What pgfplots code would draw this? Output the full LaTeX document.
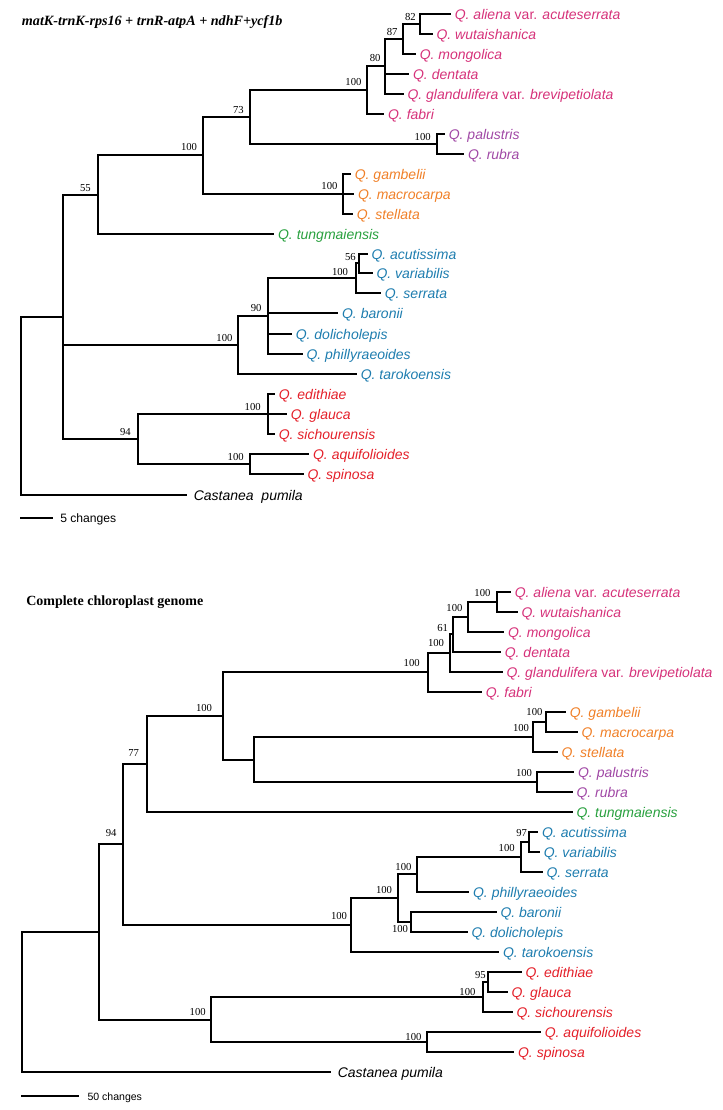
\documentclass[border=0pt]{standalone}
\usepackage{pgfplots}
\pgfplotsset{compat=1.18}
\usepackage{fontspec}
\setmainfont{Liberation Serif}
\newfontfamily\arial{Liberation Sans}
\definecolor{qpink}{RGB}{214,50,122}
\definecolor{qpurple}{RGB}{160,72,165}
\definecolor{qorange}{RGB}{240,128,40}
\definecolor{qgreen}{RGB}{40,160,62}
\definecolor{qblue}{RGB}{30,125,175}
\definecolor{qred}{RGB}{228,32,42}
\newcommand{\taxfont}{\arial\fontsize{10.5}{12}\selectfont}
\newcommand{\svfont}{\fontsize{8}{9}\selectfont}
% support value: right edge x, vertical centre y
\newcommand{\sv}[3]{\node[anchor=east,inner sep=0pt,font=\svfont] at (axis cs:#1,#2) {#3};}
% taxon label: tip x, tip y, colour, text
\newcommand{\tx}[4]{\node[anchor=base west,inner sep=0pt,xshift=3.4pt,yshift=-3.75pt,text=#3,font=\taxfont] at (axis cs:#1,#2) {#4};}
\begin{document}
\begin{tikzpicture}
\begin{axis}[
  scale only axis, width=542.25pt, height=832.5pt,
  xmin=0, xmax=723, ymin=0, ymax=1110, y dir=reverse,
  hide axis, clip=false, unbounded coords=jump,
  cycle list={{black,solid,no markers}},
  every axis plot post/.append style={black, solid, no markers, line width=1.4pt, line join=miter, line cap=rect},
]
\addplot[draw=none] coordinates {(0,0) (723,1110)};
% ================= TOP TREE =================
\addplot coordinates {(450,14) (420,14) (420,34) (431.7,34)};
\addplot coordinates {(420,24) (402.7,24) (402.7,54) (415,54)};
\addplot coordinates {(402.7,39) (385,39) (385,94) (402.7,94) (nan,nan) (385,74) (408.3,74)};
\addplot coordinates {(385,66) (366.7,66) (366.7,114) (383.3,114)};
\addplot coordinates {(444,134) (436.7,134) (436.7,154) (463.3,154)};
\addplot coordinates {(366.7,90) (250,90) (250,144) (436.7,144)};
\addplot coordinates {(350,174) (343.3,174) (343.3,214) (352,214) (nan,nan) (343.3,194) (353.3,194)};
\addplot coordinates {(250,117) (203,117) (203,194) (343.3,194)};
\addplot coordinates {(203,155) (97.7,155) (97.7,234) (273.3,234)};
\addplot coordinates {(366.7,254) (359.3,254) (359.3,273) (371.7,273)};
\addplot coordinates {(359.3,263) (356,263) (356,293) (380,293)};
\addplot coordinates {(356,278) (267.7,278) (267.7,354) (301.7,354) (nan,nan) (267.7,313) (337.3,313) (nan,nan) (267.7,334) (291,334)};
\addplot coordinates {(267.7,316) (238.3,316) (238.3,374) (356,374)};
\addplot coordinates {(274,394) (267.7,394) (267.7,434) (274,434) (nan,nan) (267.7,414) (286,414)};
\addplot coordinates {(308.3,454) (250,454) (250,474) (302.7,474)};
\addplot coordinates {(267.7,414) (138.3,414) (138.3,464) (250,464)};
\addplot coordinates {(97.7,195) (63,195) (63,439) (138.3,439) (nan,nan) (63,345) (238.3,345)};
\addplot coordinates {(63,317) (21,317) (21,495) (185.7,495)};
\addplot[line cap=butt] coordinates {(21,518) (51.7,518)};
% support values (top)
\sv{416}{16.7}{82}
\sv{397.7}{32.3}{87}
\sv{380.7}{58.3}{80}
\sv{361.7}{81.7}{100}
\sv{244}{110}{73}
\sv{197.3}{147.3}{100}
\sv{91}{187.7}{55}
\sv{431}{136.7}{100}
\sv{337.7}{186}{100}
\sv{356}{256.7}{56}
\sv{348.3}{271.7}{100}
\sv{261.7}{307.7}{90}
\sv{232.7}{337.7}{100}
\sv{261}{406.7}{100}
\sv{131}{432.3}{94}
\sv{244}{457.3}{100}
% taxa (top)
\tx{450}{14}{qpink}{\textit{Q. aliena} var. \textit{acuteserrata}}
\tx{431.7}{34}{qpink}{\textit{Q. wutaishanica}}
\tx{415}{54}{qpink}{\textit{Q. mongolica}}
\tx{408.3}{74}{qpink}{\textit{Q. dentata}}
\tx{402.7}{94}{qpink}{\textit{Q. glandulifera} var. \textit{brevipetiolata}}
\tx{383.3}{114}{qpink}{\textit{Q. fabri}}
\tx{444}{134}{qpurple}{\textit{Q. palustris}}
\tx{463.3}{154}{qpurple}{\textit{Q. rubra}}
\tx{350}{174}{qorange}{\textit{Q. gambelii}}
\tx{353.3}{194}{qorange}{\textit{Q. macrocarpa}}
\tx{352}{214}{qorange}{\textit{Q. stellata}}
\tx{273.3}{234}{qgreen}{\textit{Q. tungmaiensis}}
\tx{366.7}{254}{qblue}{\textit{Q. acutissima}}
\tx{371.7}{273}{qblue}{\textit{Q. variabilis}}
\tx{380}{293}{qblue}{\textit{Q. serrata}}
\tx{337.3}{313}{qblue}{\textit{Q. baronii}}
\tx{291}{334}{qblue}{\textit{Q. dolicholepis}}
\tx{301.7}{354}{qblue}{\textit{Q. phillyraeoides}}
\tx{356}{374}{qblue}{\textit{Q. tarokoensis}}
\tx{274}{394}{qred}{\textit{Q. edithiae}}
\tx{286}{414}{qred}{\textit{Q. glauca}}
\tx{274}{434}{qred}{\textit{Q. sichourensis}}
\tx{308.3}{454}{qred}{\textit{Q. aquifolioides}}
\tx{302.7}{474}{qred}{\textit{Q. spinosa}}
\tx{189}{495}{black}{\textit{Castanea\ \ pumila}}
\node[anchor=base west,inner sep=0pt,font=\fontsize{10.6}{12}\selectfont\bfseries\itshape] at (axis cs:21.7,26) {matK-trnK-rps16 + trnR-atpA + ndhF+ycf1b};
\node[anchor=base west,inner sep=0pt,font=\arial\fontsize{9.1}{11}\selectfont] at (axis cs:60,522) {5 changes};
% ================= BOTTOM TREE =================
\addplot coordinates {(510,592) (496.7,592) (496.7,612) (516.7,612)};
\addplot coordinates {(496.7,602) (468.3,602) (468.3,632) (503.3,632)};
\addplot coordinates {(468.3,617) (452.7,617) (452.7,652) (500,652)};
\addplot coordinates {(452.7,634) (450,634) (450,672) (501.7,672)};
\addplot coordinates {(450,653) (427.7,653) (427.7,692) (481,692)};
\addplot coordinates {(565,712) (545.7,712) (545.7,732) (576.7,732)};
\addplot coordinates {(545.7,722) (533.3,722) (533.3,752) (556.7,752)};
\addplot coordinates {(573.3,772) (536.7,772) (536.7,792) (571.7,792)};
\addplot coordinates {(533.3,737) (254,737) (254,782) (536.7,782)};
\addplot coordinates {(427.7,672) (223.3,672) (223.3,760) (254,760)};
\addplot coordinates {(223.3,716) (147,716) (147,812) (571.7,812)};
\addplot coordinates {(537.3,832) (529.3,832) (529.3,852) (539,852)};
\addplot coordinates {(529.3,842) (521,842) (521,872) (541.7,872)};
\addplot coordinates {(521,857) (416.7,857) (416.7,892) (468.3,892)};
\addplot coordinates {(495.7,912) (410.7,912) (410.7,932) (466.7,932)};
\addplot coordinates {(416.7,874) (398.3,874) (398.3,922) (410.7,922)};
\addplot coordinates {(398.3,898) (350.7,898) (350.7,952) (498.3,952)};
\addplot coordinates {(147,764) (122.7,764) (122.7,925) (350.7,925)};
\addplot coordinates {(520.7,972) (488.3,972) (488.3,992) (506.7,992)};
\addplot coordinates {(488.3,982) (482.7,982) (482.7,1012) (511.7,1012)};
\addplot coordinates {(540,1032) (426.7,1032) (426.7,1052) (513.3,1052)};
\addplot coordinates {(482.7,997) (211,997) (211,1042) (426.7,1042)};
\addplot coordinates {(122.7,844) (99,844) (99,1020) (211,1020)};
\addplot coordinates {(99,932) (21.7,932) (21.7,1072) (330,1072)};
\addplot[line cap=butt] coordinates {(21.7,1096) (77.7,1096)};
% support values (bottom)
\sv{490.7}{593.3}{100}
\sv{462.7}{608.3}{100}
\sv{448.3}{628.3}{61}
\sv{444.3}{643.3}{100}
\sv{420}{662.7}{100}
\sv{212.3}{708.3}{100}
\sv{139.3}{753.3}{77}
\sv{116.7}{832.7}{94}
\sv{542.7}{711.7}{100}
\sv{529.3}{728.3}{100}
\sv{532.3}{773.3}{100}
\sv{527.3}{832.7}{97}
\sv{515}{848.3}{100}
\sv{411.7}{867.3}{100}
\sv{392.3}{890}{100}
\sv{408.3}{929}{100}
\sv{347.3}{916}{100}
\sv{486}{975}{95}
\sv{475.7}{991.7}{100}
\sv{421.7}{1036.7}{100}
\sv{206}{1012.3}{100}
% taxa (bottom)
\tx{510}{592}{qpink}{\textit{Q. aliena} var. \textit{acuteserrata}}
\tx{516.7}{612}{qpink}{\textit{Q. wutaishanica}}
\tx{503.3}{632}{qpink}{\textit{Q. mongolica}}
\tx{500}{652}{qpink}{\textit{Q. dentata}}
\tx{501.7}{672}{qpink}{\textit{Q. glandulifera} var. \textit{brevipetiolata}}
\tx{481}{692}{qpink}{\textit{Q. fabri}}
\tx{565}{712}{qorange}{\textit{Q. gambelii}}
\tx{576.7}{732}{qorange}{\textit{Q. macrocarpa}}
\tx{556.7}{752}{qorange}{\textit{Q. stellata}}
\tx{573.3}{772}{qpurple}{\textit{Q. palustris}}
\tx{571.7}{792}{qpurple}{\textit{Q. rubra}}
\tx{571.7}{812}{qgreen}{\textit{Q. tungmaiensis}}
\tx{537.3}{832}{qblue}{\textit{Q. acutissima}}
\tx{539}{852}{qblue}{\textit{Q. variabilis}}
\tx{541.7}{872}{qblue}{\textit{Q. serrata}}
\tx{468.3}{892}{qblue}{\textit{Q. phillyraeoides}}
\tx{495.7}{912}{qblue}{\textit{Q. baronii}}
\tx{466.7}{932}{qblue}{\textit{Q. dolicholepis}}
\tx{498.3}{952}{qblue}{\textit{Q. tarokoensis}}
\tx{520.7}{972}{qred}{\textit{Q. edithiae}}
\tx{506.7}{992}{qred}{\textit{Q. glauca}}
\tx{511.7}{1012}{qred}{\textit{Q. sichourensis}}
\tx{540}{1032}{qred}{\textit{Q. aquifolioides}}
\tx{513.3}{1052}{qred}{\textit{Q. spinosa}}
\tx{333}{1072}{black}{\textit{Castanea pumila}}
\node[anchor=base west,inner sep=0pt,font=\fontsize{10.5}{12}\selectfont\bfseries] at (axis cs:26,605) {Complete chloroplast genome};
\node[anchor=base west,inner sep=0pt,font=\arial\fontsize{7.9}{10}\selectfont] at (axis cs:87.3,1100) {50 changes};
\end{axis}
\end{tikzpicture}
\end{document}
